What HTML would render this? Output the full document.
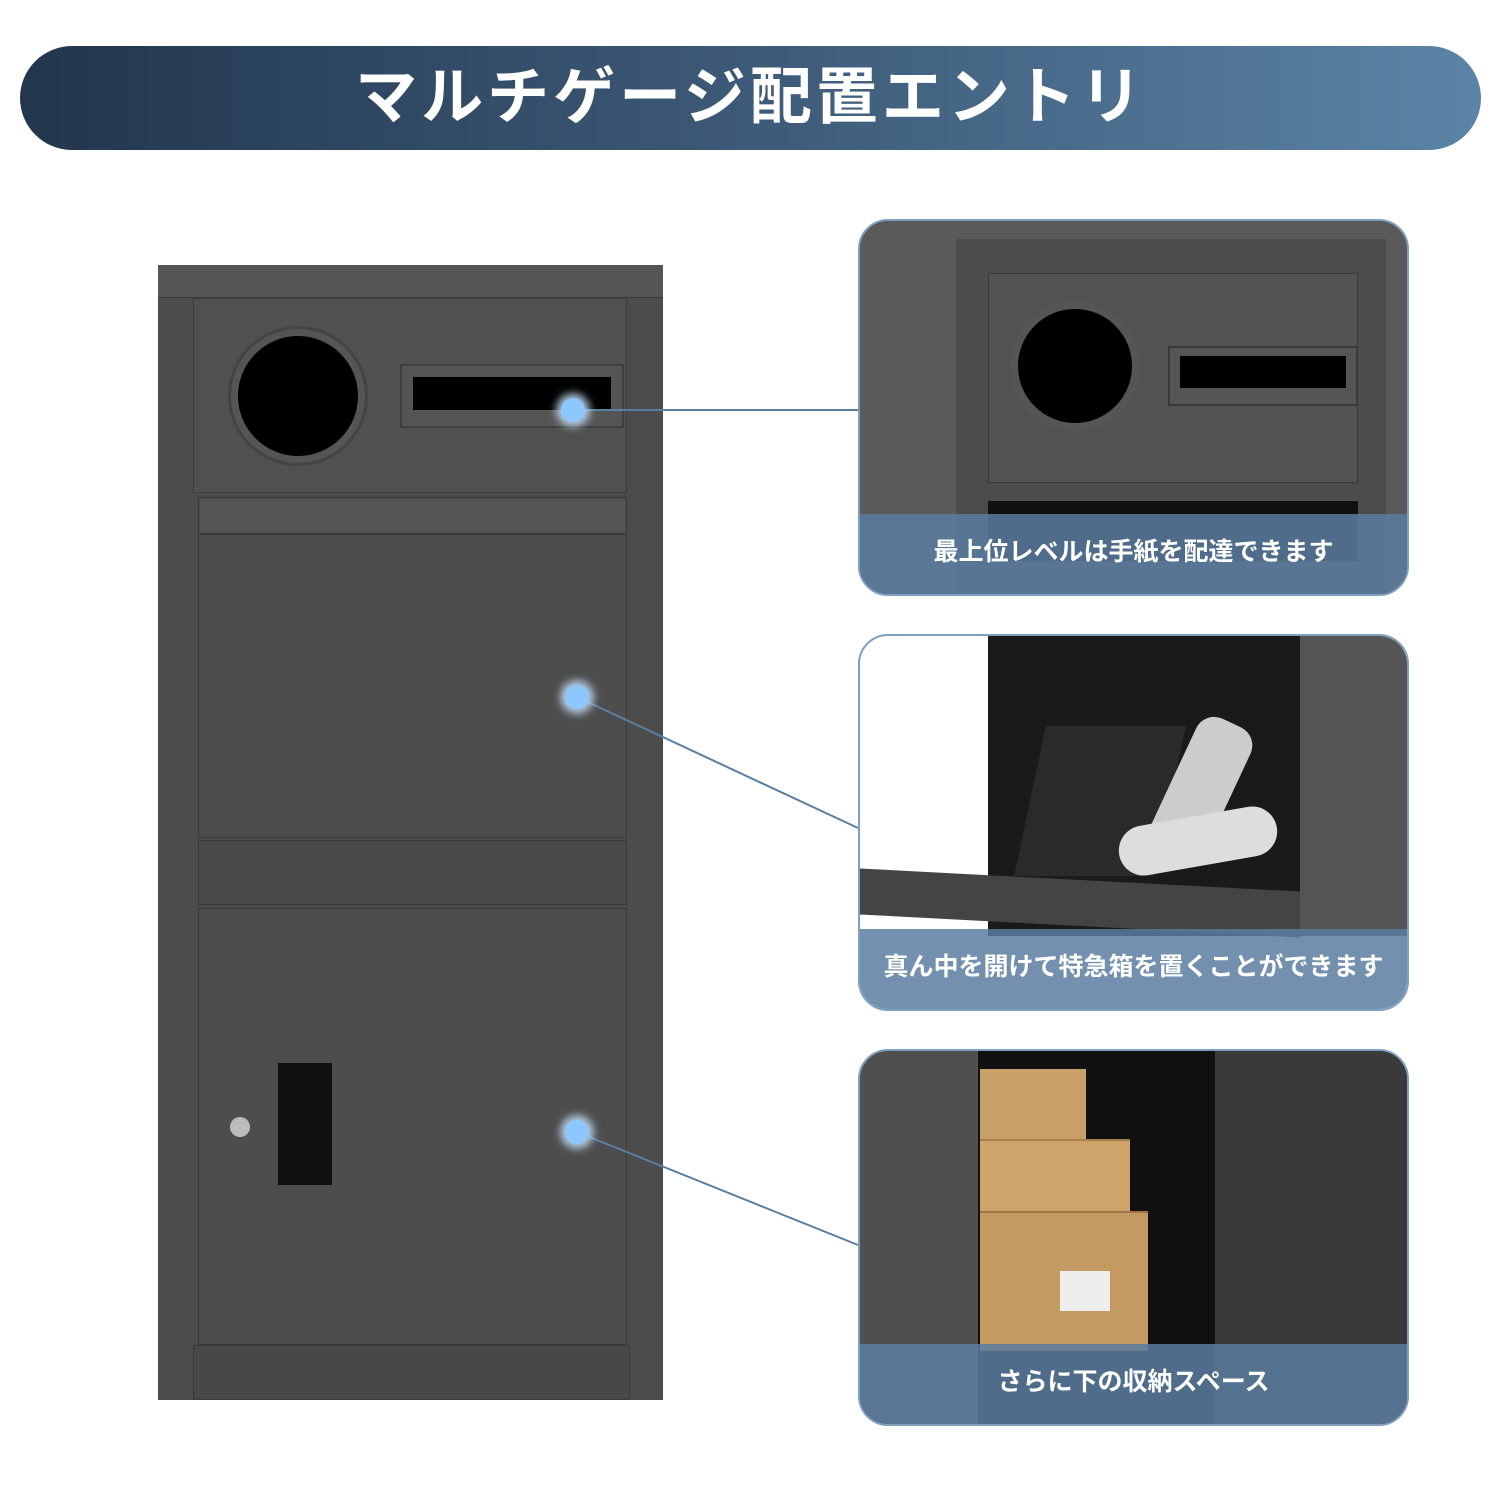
<!DOCTYPE html>
<html><head><meta charset="utf-8"><style>
*{margin:0;padding:0;box-sizing:border-box}
body{width:1501px;height:1501px;background:#fff;position:relative;overflow:hidden;font-family:"Liberation Sans","Noto Sans CJK JP",sans-serif}
.a{position:absolute}
.banner{left:20px;top:46px;width:1461px;height:104px;border-radius:52px;background:linear-gradient(90deg,#22364d,#3d5a78 50%,#5b84a6);color:#fff;font-size:62px;font-weight:bold;text-align:center;line-height:104px;letter-spacing:4px}
.panel{position:absolute;left:858px;width:551px;height:377px;border:2px solid #7f9fbf;border-radius:30px;overflow:hidden;background:#e9e9e9}
.cap{position:absolute;left:0;right:0;bottom:0;height:80px;background:rgba(90,125,160,0.85);color:#fff;font-size:25px;font-weight:bold;text-align:center;line-height:76px}
.dot{position:absolute;width:24px;height:24px;border-radius:50%;background:#8cc8ff;box-shadow:0 0 8px 5px rgba(200,230,255,0.8)}
</style></head><body>
<div class="a banner">マルチゲージ配置エントリ</div>

<!-- cabinet -->
<div class="a" style="left:158px;top:265px;width:505px;height:1135px;background:#4c4c4c"></div>
<div class="a" style="left:158px;top:265px;width:505px;height:33px;background:#555;border-bottom:1px solid #3a3a3a"></div>
<div class="a" style="left:193px;top:298px;width:434px;height:195px;background:#505050;border:1px solid #3d3d3d"></div>
<div class="a" style="left:228px;top:326px;width:140px;height:140px;border-radius:50%;background:#555;border:3px solid #444"></div>
<div class="a" style="left:238px;top:336px;width:120px;height:120px;border-radius:50%;background:#000"></div>
<div class="a" style="left:400px;top:364px;width:224px;height:64px;background:#555;border:2px solid #3f3f3f"></div>
<div class="a" style="left:413px;top:377px;width:198px;height:33px;background:#000"></div>
<div class="a" style="left:198px;top:497px;width:429px;height:341px;background:#4d4d4d;border:1px solid #3a3a3a"></div>
<div class="a" style="left:200px;top:499px;width:425px;height:36px;background:#555;border-bottom:2px solid #3a3a3a"></div>
<div class="a" style="left:198px;top:840px;width:429px;height:65px;background:#4a4a4a;border:1px solid #3a3a3a"></div>
<div class="a" style="left:198px;top:908px;width:429px;height:437px;background:#4d4d4d;border:1px solid #3a3a3a"></div>
<div class="a" style="left:278px;top:1063px;width:54px;height:122px;background:#111"></div>
<div class="a" style="left:230px;top:1117px;width:20px;height:20px;border-radius:50%;background:#bbb"></div>
<div class="a" style="left:193px;top:1345px;width:437px;height:55px;background:#484848;border:1px solid #3a3a3a"></div>

<svg class="a" style="left:0;top:0" width="1501" height="1501">
<g stroke="#5a7fa0" stroke-width="2">
<line x1="573" y1="410" x2="858" y2="410"/>
<line x1="577" y1="697" x2="858" y2="828"/>
<line x1="577" y1="1132" x2="858" y2="1245"/>
</g></svg>
<div class="dot" style="left:561px;top:398px"></div>
<div class="dot" style="left:565px;top:685px"></div>
<div class="dot" style="left:565px;top:1120px"></div>

<!-- panel 1 -->
<div class="panel" style="top:219px;background:#5a5a5a">
<div class="a" style="left:96px;top:18px;width:430px;height:360px;background:#4c4c4c"></div>
<div class="a" style="left:128px;top:52px;width:370px;height:210px;background:#525252;border:1px solid #3a3a3a"></div>
<div class="a" style="left:150px;top:80px;width:130px;height:130px;border-radius:50%;background:#000;border:8px solid #555"></div>
<div class="a" style="left:308px;top:125px;width:190px;height:60px;background:#555;border:2px solid #3a3a3a"></div>
<div class="a" style="left:320px;top:135px;width:166px;height:32px;background:#000"></div>
<div class="a" style="left:128px;top:280px;width:370px;height:60px;background:#111"></div>
<div class="cap">最上位レベルは手紙を配達できます</div>
</div>

<!-- panel 2 -->
<div class="panel" style="top:634px;background:#fff">
<div class="a" style="left:128px;top:0;width:340px;height:300px;background:#1a1a1a"></div>
<div class="a" style="left:440px;top:0;width:110px;height:300px;background:#555"></div>
<div class="a" style="left:170px;top:90px;width:140px;height:150px;background:#2a2a2a;transform:skewX(-12deg)"></div>
<div class="a" style="left:310px;top:80px;width:60px;height:150px;background:#ccc;transform:rotate(25deg);border-radius:20px"></div>
<div class="a" style="left:258px;top:180px;width:160px;height:50px;background:#ddd;border-radius:25px;transform:rotate(-10deg)"></div>
<div class="a" style="left:0;top:244px;width:440px;height:46px;background:#444;transform:skewY(3deg)"></div>
<div class="cap">真ん中を開けて特急箱を置くことができます</div>
</div>

<!-- panel 3 -->
<div class="panel" style="top:1049px;background:#4f4f4f">
<div class="a" style="left:118px;top:0;width:350px;height:377px;background:#111"></div>
<div class="a" style="left:355px;top:0;width:196px;height:377px;background:#3a3a3a"></div>
<div class="a" style="left:120px;top:18px;width:106px;height:70px;background:#c8a06a"></div>
<div class="a" style="left:120px;top:88px;width:150px;height:80px;background:#cfa46c;border-top:2px solid #a97f4c"></div>
<div class="a" style="left:120px;top:160px;width:168px;height:140px;background:#c49a63;border-top:2px solid #a07444"></div>
<div class="a" style="left:200px;top:220px;width:50px;height:40px;background:#eee"></div>
<div class="cap">さらに下の収納スペース</div>
</div>
</body></html>
